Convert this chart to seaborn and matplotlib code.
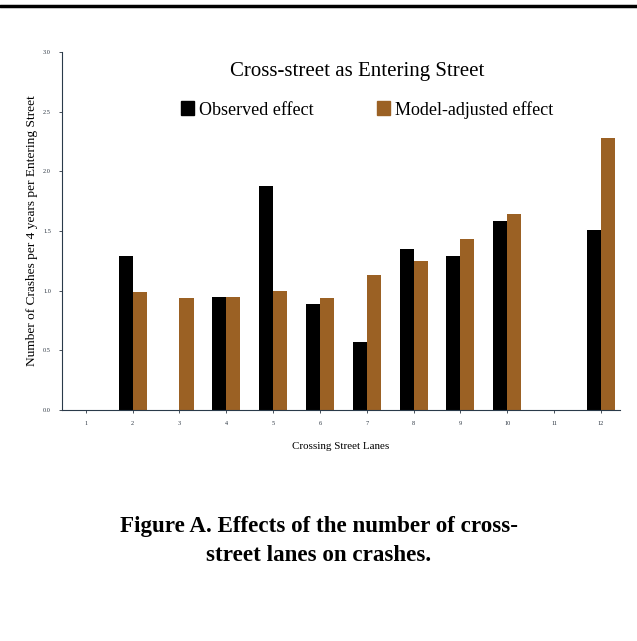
import matplotlib
matplotlib.use("Agg")
import matplotlib.pyplot as plt
import matplotlib.lines as mlines
import matplotlib.patches as mpatches
import pandas as pd
import seaborn as sns

# values (0 = no bar drawn)
lanes = ["1", "2", "3", "4", "5", "6", "7", "8", "9", "10", "11", "12"]
observed = [0.0, 1.29, 0.0, 0.95, 1.88, 0.89, 0.57, 1.35, 1.29, 1.58, 0.0, 1.51]
adjusted = [0.0, 0.99, 0.94, 0.95, 1.00, 0.94, 1.13, 1.25, 1.43, 1.64, 0.0, 2.28]
series = ["Observed effect", "Model-adjusted effect"]
colors = ["#000000", "#9b6124"]
yticks = [0.0, 0.5, 1.0, 1.5, 2.0, 2.5, 3.0]

df = pd.DataFrame({
    "Lanes": lanes * 2,
    "Crashes": observed + adjusted,
    "Effect": [series[0]] * len(lanes) + [series[1]] * len(lanes),
})

sns.set_style("white")
plt.rcParams["font.family"] = ["Liberation Serif", "DejaVu Serif"]
plt.rcParams["text.color"] = "black"

fig = plt.figure(figsize=(6.37, 6.41), dpi=100)
ax = fig.add_axes([0.0973, 0.3604, 0.876, 0.5585])

sns.barplot(data=df, x="Lanes", y="Crashes", hue="Effect", order=lanes,
            hue_order=series, palette=colors, width=0.6, saturation=1,
            edgecolor="none", ax=ax, legend=False)

ax.set_xlim(-0.51, 11.41)
ax.set_ylim(0, 3.0)
ax.set_yticks(yticks)
ax.set_yticklabels([f"{v:.1f}" for v in yticks])
ax.tick_params(axis="both", labelsize=4.5, length=2, width=0.6, colors="#2a3440",
               direction="out", pad=6)
ax.tick_params(axis="both", left=True, bottom=True)
for s in ["top", "right"]:
    ax.spines[s].set_visible(False)
for s in ["left", "bottom"]:
    ax.spines[s].set_color("#2a3a4a")
    ax.spines[s].set_linewidth(0.8)
ax.set_xlabel("")
ax.set_ylabel("")

fig.text(0.56, 0.888, "Cross-street as Entering Street", ha="center",
         va="center", fontsize=15)
handles = [mpatches.Patch(color=c) for c in colors]
fig.legend(handles, series, loc="center", bbox_to_anchor=(0.576, 0.829),
           ncol=2, frameon=False, fontsize=13, handlelength=0.75,
           handleheight=0.85, handletextpad=0.25, columnspacing=3.5)

fig.text(0.05, 0.64, "Number of Crashes per 4 years per Entering Street",
         rotation=90, ha="center", va="center", fontsize=9.6)
fig.text(0.535, 0.304, "Crossing Street Lanes", ha="center", va="center",
         fontsize=7.9)

fig.text(0.5, 0.156, "Figure A. Effects of the number of cross-\nstreet lanes on crashes.",
         ha="center", va="center", fontsize=16.6, fontweight="bold",
         linespacing=1.55)

fig.add_artist(mlines.Line2D([0, 1], [0.9906, 0.9906], color="black",
                             linewidth=2.5, transform=fig.transFigure))

fig.savefig("out.png", dpi=100)
